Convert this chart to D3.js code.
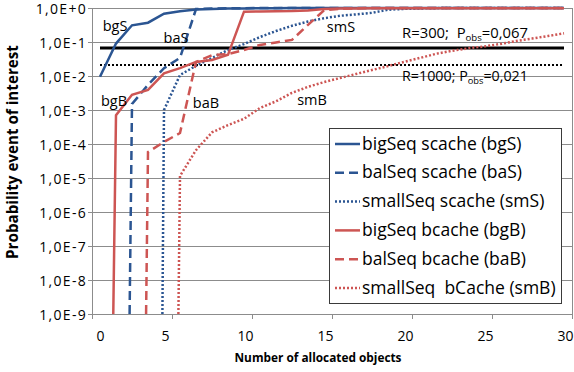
<!DOCTYPE html>
<html>
<head>
<meta charset="utf-8">
<script src="https://cdn.jsdelivr.net/npm/d3@7/dist/d3.min.js"></script>
<style>
  body { margin: 0; background: #fff; }
  svg text { font-family: "Open Sans", Lato, sans-serif; fill: #000; white-space: pre; }
</style>
</head>
<body>
<div class="chart"></div>
<script>
// values
const xTicks = [0, 5, 10, 15, 20, 25, 30];
const yTicks = [1, 1e-1, 1e-2, 1e-3, 1e-4, 1e-5, 1e-6, 1e-7, 1e-8, 1e-9];

const bgS_x = [0.5, 1.5, 2.5, 3.5, 4.5, 5.5, 6.5, 7.5, 8.5, 9.5, 10.5, 11.5, 12.5, 29.5];
const bgS_y = [0.0095, 0.09, 0.31, 0.37, 0.68, 0.8, 0.9, 0.94, 0.96, 0.97, 0.98, 0.99, 1, 1];

const baS_x = [2.35, 2.5, 3.5, 4.5, 5.5, 6.5, 7.5, 8.5, 9.5, 10.5, 29.5];
const baS_y = [1e-9, 1.5e-3, 5.5e-3, 1.7e-2, 3.4e-2, 0.93, 0.97, 0.98, 0.99, 1, 1];

const smS_x = [4.4, 4.5, 5.5, 6.5, 7.5, 8.5, 9.5, 10.5, 11.5, 12.5, 13.5, 14.5, 15.5, 16.5, 17.5, 18.5, 19.5, 20.5, 21.5, 22.5, 29.5];
const smS_y = [1e-9, 1e-3, 0.0107, 0.02, 0.034, 0.058, 0.087, 0.14, 0.21, 0.3, 0.4, 0.5, 0.59, 0.65, 0.72, 0.89, 0.94, 0.97, 0.99, 1, 1];

const bgB_x = [1.33, 1.5, 2.5, 3.5, 4.5, 5.5, 6.5, 7.5, 8.5, 9.5, 10.5, 11.5, 12.5, 13.5, 14.5, 15.5, 16.5, 17.5, 18.5, 19.5, 29.5];
const bgB_y = [1e-9, 7e-4, 2.8e-3, 3.9e-3, 1.2e-2, 1.7e-2, 2.6e-2, 2.95e-2, 4.2e-2, 0.78, 0.79, 0.8, 0.81, 0.84, 0.93, 0.96, 0.97, 0.98, 0.99, 0.99, 0.99];

const baB_x = [3.38, 3.5, 4.5, 5.5, 6.5, 7.5, 8.5, 9.5, 10.5, 11.5, 12.5, 13.5, 14.5, 15.5, 16.5, 17.5, 29.5];
const baB_y = [1e-9, 5.8e-5, 1.15e-4, 2.1e-4, 2.6e-2, 0.041, 0.044, 0.058, 0.082, 0.097, 0.115, 0.32, 0.85, 0.95, 0.98, 1, 1];

const smB_x = [5.4, 5.5, 6.5, 7.5, 8.5, 9.5, 10.5, 11.5, 12.5, 13.5, 14.5, 15.5, 16.5, 17.5, 18.5, 19.5, 20.5, 21.5, 22.5, 23.5, 24.5, 25.5, 26.5, 27.5, 28.5, 29.5];
const smB_y = [1e-9, 1.15e-5, 6.6e-5, 2.2e-4, 3.6e-4, 5.5e-4, 1.15e-3, 1.8e-3, 3.2e-3, 4.8e-3, 6.6e-3, 8.7e-3, 1.15e-2, 1.5e-2, 1.95e-2, 2.6e-2, 3.4e-2, 4.5e-2, 5.5e-2, 6.5e-2, 7.4e-2, 8.7e-2, 0.107, 0.126, 0.15, 0.18];

const refX = [0.5, 29.5];
const ref300 = 0.067;
const ref1000 = 0.021;

const labels = ["bigSeq scache (bgS)", "balSeq scache (baS)", "smallSeq scache (smS)",
  "bigSeq bcache (bgB)", "balSeq bcache (baB)", "smallSeq  bCache (smB)"];

const blue = "#2b5592", red = "#cd5553";
const series = [
  { x: bgS_x, y: bgS_y, color: blue, dash: null, tag: "bgS", tx: 115, ty: 31 },
  { x: baS_x, y: baS_y, color: blue, dash: "9,5", tag: "baS", tx: 176, ty: 43 },
  { x: smS_x, y: smS_y, color: blue, dash: "2,2", tag: "smS", tx: 341, ty: 32 },
  { x: bgB_x, y: bgB_y, color: red, dash: null, tag: "bgB", tx: 114, ty: 106 },
  { x: baB_x, y: baB_y, color: red, dash: "9,5", tag: "baB", tx: 206, ty: 108 },
  { x: smB_x, y: smB_y, color: red, dash: "2,2", tag: "smB", tx: 312, ty: 105 }
];

const width = 574, height = 372;
const plot = { left: 92, right: 572, top: 8, bottom: 314 };

const svg = d3.select(".chart").append("svg")
  .attr("width", width).attr("height", height);

// scale a text's font size so it is as wide as the reference text
function fit(sel, w) {
  sel.each(function () {
    const fs = parseFloat(d3.select(this).attr("font-size"));
    const len = this.getComputedTextLength();
    d3.select(this).attr("font-size", (fs * w / len).toFixed(2));
  });
  return sel;
}

const x = d3.scaleLinear().domain([0, 30]).range([plot.left, plot.right]);
const y = d3.scaleLog().domain([1e-9, 1]).range([plot.bottom, plot.top]);

svg.append("clipPath").attr("id", "plot")
  .append("rect").attr("x", plot.left).attr("y", plot.top - 2)
  .attr("width", plot.right - plot.left).attr("height", plot.bottom - plot.top + 2);

// gridlines
svg.append("g").selectAll("line").data(yTicks).join("line")
  .attr("x1", plot.left).attr("x2", plot.right)
  .attr("y1", d => y(d)).attr("y2", d => y(d))
  .attr("stroke", "#8c8c8c").attr("stroke-width", 1).attr("shape-rendering", "crispEdges");
svg.append("line").attr("x1", plot.right).attr("x2", plot.right).attr("y1", plot.top).attr("y2", plot.bottom)
  .attr("stroke", "#8c8c8c").attr("shape-rendering", "crispEdges");

// axes
const fmt = d => {
  const e = Math.round(Math.log10(d));
  return "1,0E" + (e >= 0 ? "+" + e : e);
};
const yAxis = svg.append("g").attr("transform", `translate(${plot.left},0)`)
  .call(d3.axisLeft(y).tickValues(yTicks).tickFormat(fmt).tickSizeInner(4).tickSizeOuter(0).tickPadding(1));
const xAxis = svg.append("g").attr("transform", `translate(0,${plot.bottom})`)
  .call(d3.axisBottom(x).tickValues(xTicks).tickSizeInner(5).tickSizeOuter(0).tickPadding(12));
[yAxis, xAxis].forEach(a => {
  a.selectAll("path, line").attr("stroke", "#8c8c8c").attr("shape-rendering", "crispEdges");
  a.selectAll("text").attr("font-size", 14).attr("font-family", "'Open Sans', sans-serif").attr("fill", "#000");
});
yAxis.selectAll("text").attr("letter-spacing", 1.3).attr("dy", "0.36em");
xAxis.selectAll("text").attr("dx", d => d === 0 ? 8 : -7);

// reference lines
const line = d3.line().x(d => x(d[0])).y(d => y(d[1]));
svg.append("path").attr("d", line(refX.map(v => [v, ref300])))
  .attr("stroke", "#000").attr("stroke-width", 3).attr("fill", "none");
svg.append("path").attr("d", line(refX.map(v => [v, ref1000])))
  .attr("stroke", "#000").attr("stroke-width", 2).attr("stroke-dasharray", "2,2").attr("fill", "none");

// series
const lines = svg.append("g").attr("clip-path", "url(#plot)");
series.forEach(s => {
  lines.append("path")
    .attr("d", line(s.x.map((v, i) => [v, s.y[i]])))
    .attr("fill", "none").attr("stroke", s.color).attr("stroke-width", 2.5)
    .attr("stroke-dasharray", s.dash);
});

// in-plot tags
svg.append("g").selectAll("text").data(series).join("text")
  .attr("x", d => d.tx).attr("y", d => d.ty).attr("text-anchor", "middle")
  .attr("font-size", 14.5).text(d => d.tag);

const refLabel = (yy, a, b) => {
  const t = svg.append("text").attr("x", 465).attr("y", yy).attr("text-anchor", "middle").attr("font-size", 14);
  t.append("tspan").text(a);
  t.append("tspan").attr("font-size", "0.65em").attr("dy", 3).text("obs");
  t.append("tspan").attr("dy", -3).text(b);
  fit(t, 126);
};
refLabel(38, "R=300;  P", "=0,067");
refLabel(81, "R=1000; P", "=0,021");

// legend
const lg = svg.append("g");
lg.append("rect").attr("x", 329.5).attr("y", 128.5).attr("width", 232).attr("height", 175)
  .attr("fill", "#fff").attr("stroke", "#3a3a3a").attr("stroke-width", 1);
const rowY = d3.scalePoint().domain(d3.range(6)).range([144, 288]);
const legendText = [];
series.forEach((s, i) => {
  lg.append("line").attr("x1", 335).attr("x2", 360)
    .attr("y1", rowY(i)).attr("y2", rowY(i))
    .attr("stroke", s.color).attr("stroke-width", 2.5).attr("stroke-dasharray", s.dash);
  legendText.push(lg.append("text").attr("x", 362).attr("y", rowY(i) + 5.5)
    .attr("font-size", 16).text(labels[i]));
});
fit(legendText[1], 160);
legendText.forEach(t => t.attr("font-size", legendText[1].attr("font-size")));

// axis titles
fit(svg.append("text").attr("x", 318).attr("y", 362).attr("text-anchor", "middle")
  .attr("font-family", "Lato, sans-serif")
  .attr("font-size", 13).attr("font-weight", "bold").text("Number of allocated objects"), 167);
fit(svg.append("text").attr("transform", "translate(18,152) rotate(-90)").attr("text-anchor", "middle")
  .attr("font-family", "Lato, sans-serif")
  .attr("font-size", 13).attr("font-weight", "bold").text("Probability event of interest"), 214);
</script>
</body>
</html>
